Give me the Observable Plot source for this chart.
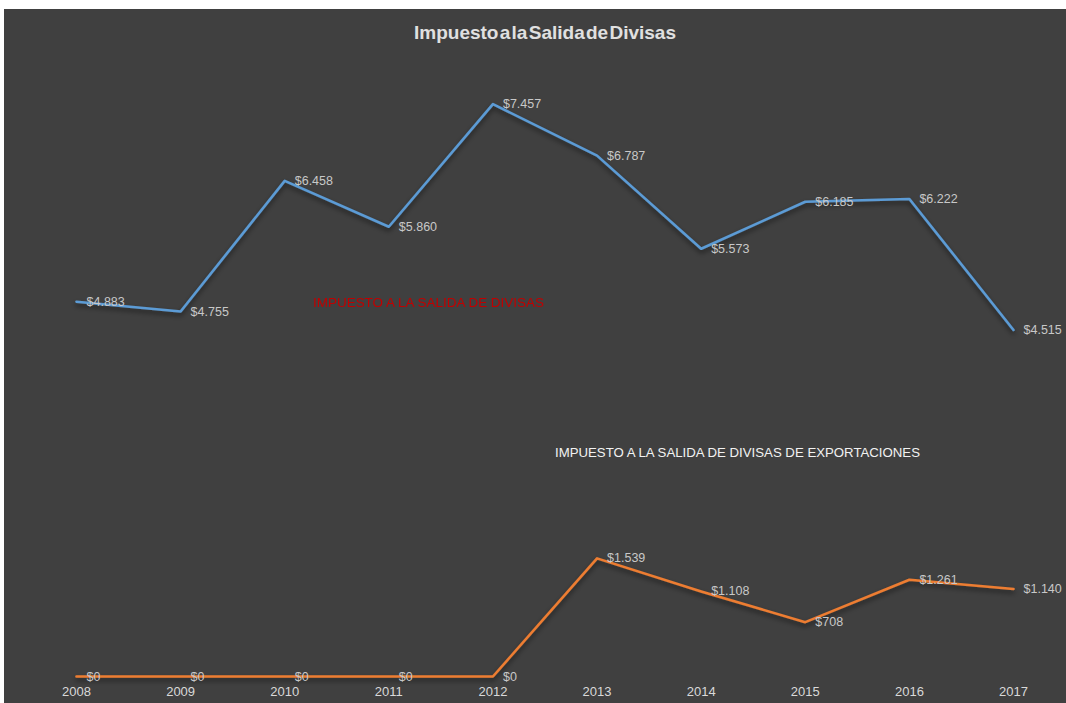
<!DOCTYPE html>
<html><head><meta charset="utf-8">
<script src="https://cdn.jsdelivr.net/npm/d3@7"></script>
<script src="https://cdn.jsdelivr.net/npm/@observablehq/plot@0.6"></script>
<style>
body{margin:0;background:#fff;}
#chart{position:absolute;left:4px;top:9px;width:1062px;height:694px;background:#404040;overflow:hidden}
#chart svg{position:absolute;left:0;top:0}
</style></head><body><div id="chart"></div>
<script>
const years = [2008, 2009, 2010, 2011, 2012, 2013, 2014, 2015, 2016, 2017];
const salidaDivisas = [4883, 4755, 6458, 5860, 7457, 6787, 5573, 6185, 6222, 4515];
const exportaciones = [0, 0, 0, 0, 0, 1539, 1108, 708, 1261, 1140];
const seriesNames = ["IMPUESTO A LA SALIDA DE DIVISAS", "IMPUESTO A LA SALIDA DE DIVISAS DE EXPORTACIONES"];
const chartTitle = "Impuesto a la Salida de Divisas";

const fmt = v => "$" + d3.format(",")(v).replace(/,/g, ".");
const rowsA = years.map((y, i) => ({year: y, value: salidaDivisas[i]}));
const rowsB = years.map((y, i) => ({year: y, value: exportaciones[i]}));
const font = "'Liberation Sans', Arial, sans-serif";

const plot = Plot.plot({
  width: 1062,
  height: 694,
  marginLeft: 72,
  marginRight: 53,
  marginTop: 53,
  marginBottom: 27,
  style: {background: "transparent", fontFamily: font, color: "#d9d9d9"},
  x: {type: "linear", domain: [2008, 2017]},
  y: {domain: [0, 8000], axis: null},
  marks: [
    Plot.axisX(years, {tickSize: 0, tickPadding: 10, tickFormat: d => String(d), fontSize: 13, fill: "#d9d9d9", label: null}),
    Plot.line(rowsA, {x: "year", y: "value", stroke: "#5B9BD5", strokeWidth: 2.6, className: "shadowline"}),
    Plot.line(rowsB, {x: "year", y: "value", stroke: "#ED7D31", strokeWidth: 2.6, className: "shadowline"}),
    Plot.text(rowsA, {x: "year", y: "value", text: d => fmt(d.value), dx: 10, dy: 0, textAnchor: "start", fill: "#c8c8c8", fontSize: 12.5}),
    Plot.text(rowsB, {x: "year", y: "value", text: d => fmt(d.value), dx: 10, dy: 0, textAnchor: "start", fill: "#c8c8c8", fontSize: 12.5}),
    Plot.text([seriesNames[0]], {frameAnchor: "top-left", text: d => d, dx: 352, dy: 235, textAnchor: "middle", fill: "#c00000", fontSize: 13.5, className: "lblA"}),
    Plot.text([seriesNames[1]], {frameAnchor: "top-left", text: d => d, dx: 661, dy: 385, textAnchor: "middle", fill: "#f2f2f2", fontSize: 13.5, className: "lblB"}),
    Plot.text([chartTitle], {frameAnchor: "top", text: d => d, dy: -37, textAnchor: "middle", fill: "#e0e0e0", fontSize: 19, fontWeight: "bold", className: "ttl"})
  ]
});

const ns = "http://www.w3.org/2000/svg";
const defs = document.createElementNS(ns, "defs");
defs.innerHTML = `<filter id="sh" x="-10%" y="-10%" width="120%" height="140%"><feDropShadow dx="0" dy="3" stdDeviation="2.5" flood-color="#000" flood-opacity="0.55"/></filter>
<filter id="glow" x="-10%" y="-50%" width="120%" height="200%"><feGaussianBlur in="SourceGraphic" stdDeviation="0.6"/></filter>`;
plot.insertBefore(defs, plot.firstChild);
plot.querySelectorAll(".shadowline path").forEach(p => p.setAttribute("filter", "url(#sh)"));
plot.querySelectorAll(".lblA text").forEach(t => { t.setAttribute("textLength", 231); t.setAttribute("lengthAdjust", "spacingAndGlyphs"); t.setAttribute("filter", "url(#glow)"); });
plot.querySelectorAll(".lblB text").forEach(t => { t.setAttribute("textLength", 365); t.setAttribute("lengthAdjust", "spacingAndGlyphs"); });
plot.querySelectorAll(".ttl text").forEach(t => { t.setAttribute("textLength", 262); t.setAttribute("lengthAdjust", "spacingAndGlyphs"); t.setAttribute("word-spacing", "-4"); });
document.getElementById("chart").appendChild(plot);
</script>
</body></html>
